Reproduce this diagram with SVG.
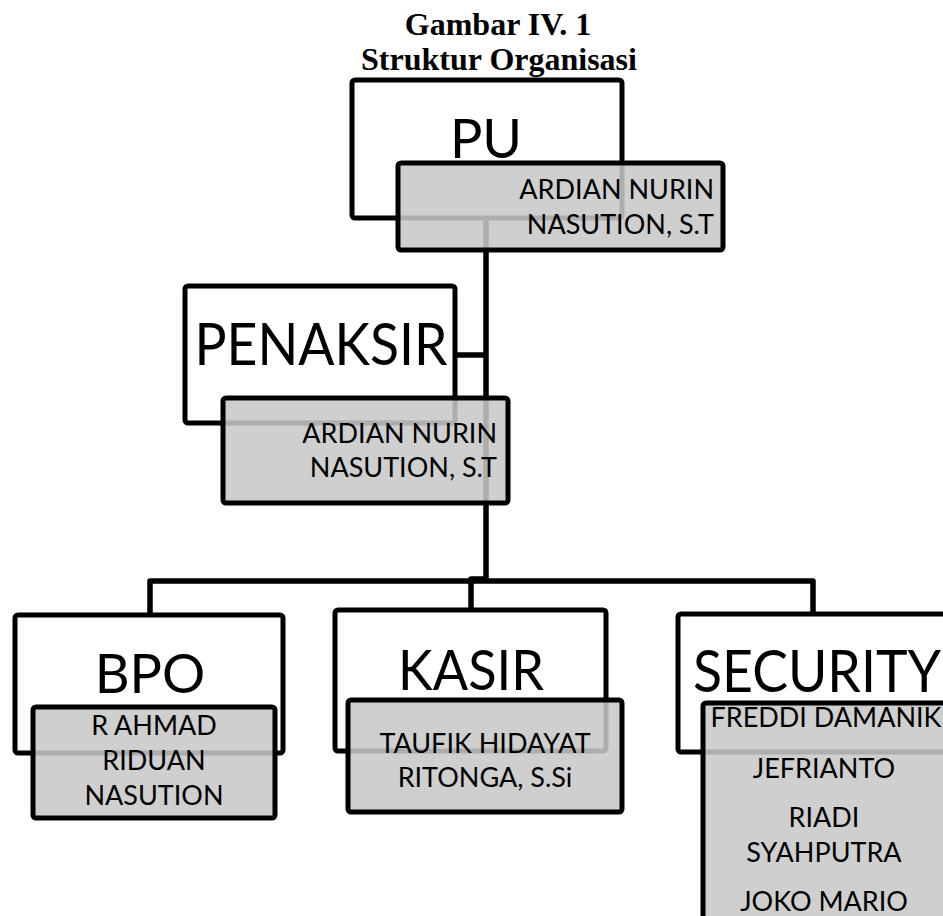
<svg xmlns="http://www.w3.org/2000/svg" width="943" height="916" viewBox="0 0 943 916">
<style>
.title{font-family:"Liberation Serif","Times New Roman",serif;font-weight:bold;font-size:32px;fill:#000;text-anchor:middle}
.box{fill:#fff;stroke:#000;stroke-width:5;stroke-linejoin:round}
.gray{fill:#c8c8c8;fill-opacity:0.87;stroke:#000;stroke-width:5;stroke-linejoin:round}
.lbl{font-family:Lato,"Open Sans",sans-serif;fill:#000;text-anchor:middle}
.nm{font-family:Lato,"Open Sans",sans-serif;font-size:27px;fill:#000}
.conn{fill:none;stroke:#000;stroke-width:5.5;stroke-linejoin:round;stroke-linecap:butt}
</style>
<rect width="943" height="916" fill="#fff"/>
<g id="title">
<text class="title" x="498" y="35">Gambar IV. 1</text>
<text class="title" x="499" y="70">Struktur Organisasi</text>
</g>
<g id="connectors">
<path class="conn" d="M486,218 V579 H471 V610"/>
<path class="conn" d="M455,355 H486"/>
<path class="conn" d="M150,615 V581 H813 V614"/>
</g>
<g id="pu">
<rect class="box" x="352" y="80" width="270" height="138" rx="3"/>
<text class="lbl" x="486" y="158" font-size="54">PU</text>
<rect class="gray" x="398" y="163" width="325" height="87" rx="3"/>
<text class="nm" x="714" y="199" text-anchor="end">ARDIAN NURIN</text>
<text class="nm" x="714" y="234" text-anchor="end">NASUTION, S.T</text>
</g>
<g id="penaksir">
<rect class="box" x="185" y="286" width="270" height="137" rx="3"/>
<text class="lbl" x="321" y="365" font-size="58" textLength="253" lengthAdjust="spacingAndGlyphs">PENAKSIR</text>
<rect class="gray" x="223" y="398" width="285" height="105" rx="3"/>
<text class="nm" x="497" y="443" text-anchor="end">ARDIAN NURIN</text>
<text class="nm" x="497" y="477" text-anchor="end">NASUTION, S.T</text>
</g>
<g id="bpo">
<rect class="box" x="15" y="615" width="268" height="138" rx="3"/>
<text class="lbl" x="150" y="693" font-size="54">BPO</text>
<rect class="gray" x="33" y="707" width="242" height="111" rx="3"/>
<text class="nm" x="154" y="735" text-anchor="middle">R AHMAD</text>
<text class="nm" x="154" y="770" text-anchor="middle">RIDUAN</text>
<text class="nm" x="154" y="805" text-anchor="middle">NASUTION</text>
</g>
<g id="kasir">
<rect class="box" x="335" y="610" width="271" height="141" rx="3"/>
<text class="lbl" x="471" y="690" font-size="56" textLength="146" lengthAdjust="spacingAndGlyphs">KASIR</text>
<rect class="gray" x="348" y="700" width="274" height="112" rx="3"/>
<text class="nm" x="485" y="753" text-anchor="middle">TAUFIK HIDAYAT</text>
<text class="nm" x="485" y="787" text-anchor="middle">RITONGA, S.Si</text>
</g>
<g id="security">
<rect class="box" x="678" y="614" width="280" height="138" rx="3"/>
<text class="lbl" x="817" y="692" font-size="58" textLength="248" lengthAdjust="spacingAndGlyphs">SECURITY</text>
<rect class="gray" x="703" y="703" width="280" height="240" rx="3"/>
<text class="nm" x="826" y="727" text-anchor="middle">FREDDI DAMANIK</text>
<text class="nm" x="824" y="778" text-anchor="middle">JEFRIANTO</text>
<text class="nm" x="824" y="827" text-anchor="middle">RIADI</text>
<text class="nm" x="824" y="862" text-anchor="middle">SYAHPUTRA</text>
<text class="nm" x="824" y="911" text-anchor="middle">JOKO MARIO</text>
</g>
</svg>
